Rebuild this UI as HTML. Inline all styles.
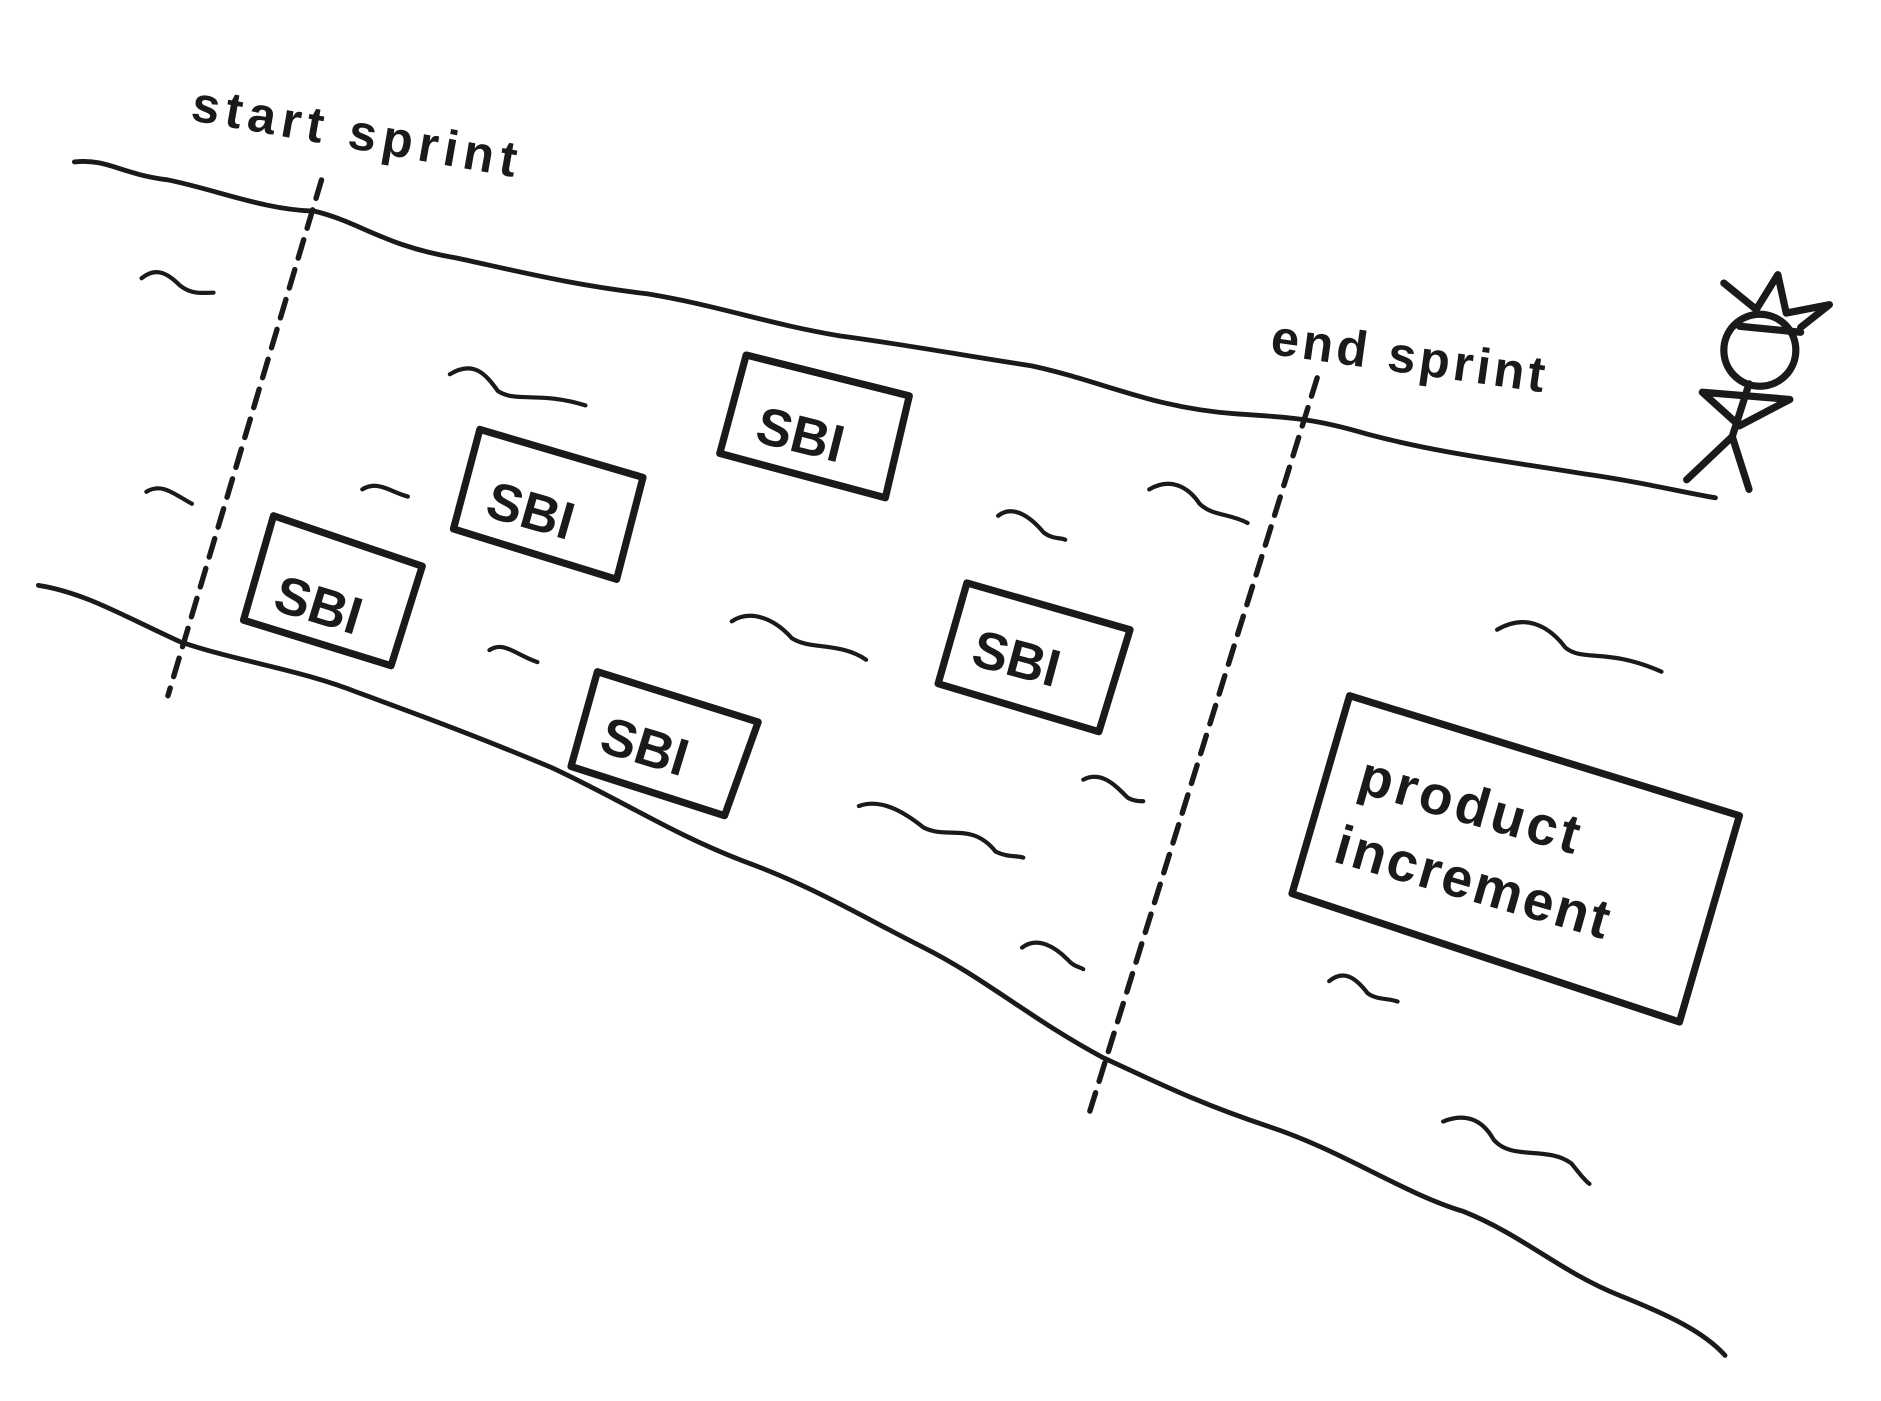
<!DOCTYPE html>
<html><head><style>html,body{margin:0;padding:0;background:#fff}svg{display:block}</style></head>
<body>
<svg width="1881" height="1401" viewBox="0 0 1568 1168" preserveAspectRatio="none" xmlns="http://www.w3.org/2000/svg">
<g fill="none" stroke="#1a1a1a" stroke-linecap="round" stroke-linejoin="round">
<g stroke-width="4">
<path d="M62,135 C90,132 100,145 140,150 C180,158 220,175 262,176 C300,185 320,205 380,215 C440,228 480,238 540,245 C600,255 640,270 700,280 C760,288 800,296 860,305 C920,318 960,340 1030,345 C1080,348 1100,350 1140,362 C1200,378 1260,385 1320,395 C1370,402 1400,410 1430,415"/>
<path d="M32,488 C70,494 100,512 150,535 C200,552 250,558 300,578 C360,600 400,615 460,640 C520,668 560,695 620,718 C680,740 720,765 770,790 C820,815 860,850 920,882 C970,905 1000,920 1060,940 C1120,960 1170,995 1220,1010 C1270,1030 1300,1060 1350,1080 C1390,1096 1420,1110 1438,1130"/>
</g>
<g stroke-width="4.5" stroke-dasharray="16,10">
<path d="M268,150 L140,580"/>
<path d="M1098,315 L908,928"/>
</g>
<g stroke-width="3.5">
<path d="M118,232 C130,222 140,228 150,238 C160,246 170,244 178,244"/>
<path d="M375,312 C395,300 405,312 415,326 C430,336 450,326 488,338"/>
<path d="M122,410 C135,402 145,412 160,420"/>
<path d="M302,408 C315,400 325,410 340,414"/>
<path d="M408,542 C420,534 430,546 448,552"/>
<path d="M610,518 C625,508 645,515 660,532 C675,542 700,535 722,550"/>
<path d="M832,430 C845,420 860,432 870,444 C878,450 885,448 888,450"/>
<path d="M958,408 C975,398 990,405 1000,420 C1010,430 1025,428 1040,436"/>
<path d="M716,672 C735,665 755,678 770,690 C790,700 810,685 830,710 C840,715 848,713 853,715"/>
<path d="M903,650 C918,642 930,655 940,665 C945,668 950,668 953,668"/>
<path d="M852,790 C865,780 880,790 890,800 C895,806 900,806 903,808"/>
<path d="M1248,525 C1270,512 1290,520 1305,540 C1320,552 1340,540 1385,560"/>
<path d="M1108,818 C1120,808 1130,815 1140,828 C1148,834 1158,832 1165,835"/>
<path d="M1203,935 C1220,928 1235,932 1245,950 C1260,968 1290,955 1310,970 C1318,980 1322,985 1325,987"/>
</g>
<g stroke-width="6">
<path d="M622,296 L758,330 L738,415 L600,378 Z"/>
<path d="M400,358 L536,398 L514,483 L378,441 Z"/>
<path d="M228,430 L352,472 L326,555 L203,517 Z"/>
<path d="M498,560 L632,602 L604,680 L476,639 Z"/>
<path d="M806,486 L942,525 L916,610 L782,570 Z"/>
<path d="M1125,580 L1450,680 L1400,852 L1077,745 Z"/>
</g>
<g stroke-width="6">
<path d="M1437,236 L1464,258 L1482,229 L1489,261 L1525,254 L1501,273"/>
<path d="M1450,272 L1501,277"/>
<circle cx="1467" cy="292" r="30"/>
<path d="M1458,320 L1444,364"/>
<path d="M1419,327 L1492,333 L1450,355 Z"/>
<path d="M1444,364 L1406,400 M1444,364 L1458,408"/>
</g>
</g>
<g font-family="Liberation Sans, sans-serif" font-weight="bold" fill="#1a1a1a">
<text x="158" y="100" font-size="42" letter-spacing="5" transform="rotate(10 158 100)">start sprint</text>
<text x="1058" y="295" font-size="42" letter-spacing="3" transform="rotate(8 1058 295)">end sprint</text>
<text x="628" y="368" font-size="44" transform="rotate(14 628 368)">SBI</text>
<text x="403" y="430" font-size="44" transform="rotate(16 403 430)">SBI</text>
<text x="226" y="508" font-size="44" transform="rotate(17 226 508)">SBI</text>
<text x="498" y="626" font-size="44" transform="rotate(17 498 626)">SBI</text>
<text x="808" y="554" font-size="44" transform="rotate(15 808 554)">SBI</text>
<text x="1130" y="660" font-size="46" letter-spacing="3" transform="rotate(16 1130 660)">product</text>
<text x="1110" y="718" font-size="46" letter-spacing="2" transform="rotate(16 1110 718)">increment</text>
</g>
</svg>
</body></html>
